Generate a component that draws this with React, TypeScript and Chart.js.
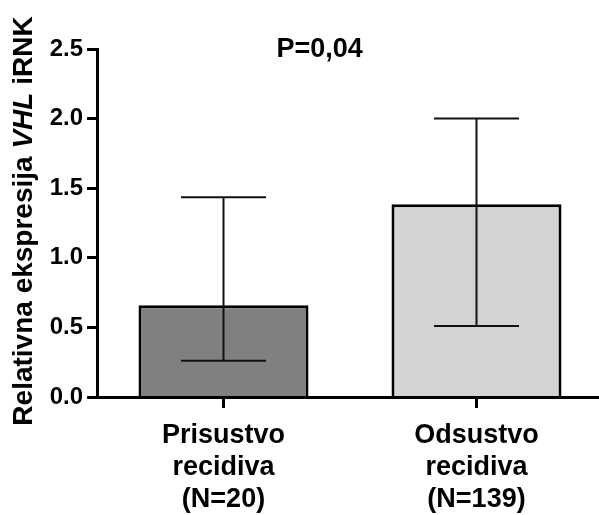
import React, { useEffect, useRef } from "react";
import { Chart, registerables } from "chart.js";

Chart.register(...registerables);

const categories: string[][] = [
  ["Prisustvo", "recidiva", "(N=20)"],
  ["Odsustvo", "recidiva", "(N=139)"],
];
const means: number[] = [0.66, 1.385];
const errLow: number[] = [0.26, 0.51];
const errHigh: number[] = [1.435, 2.0];
const barColors: string[] = ["#808080", "#d3d3d3"];
const yTicks: number[] = [0, 0.5, 1.0, 1.5, 2.0, 2.5];
const yTitleParts: { text: string; italic: boolean }[] = [
  { text: "Relativna ekspresija ", italic: false },
  { text: "VHL", italic: true },
  { text: " iRNK", italic: false },
];
const annotationText = "P=0,04";
const annotationX = 0.38; // category-index position
const annotationY = 2.5;

const FAMILY = '"Liberation Sans", Arial, sans-serif';

const errorBarsPlugin = {
  id: "errorBars",
  afterDatasetsDraw(chart: any) {
    const { ctx } = chart;
    const meta = chart.getDatasetMeta(0);
    const y = chart.scales.y;
    ctx.save();
    ctx.strokeStyle = "#111";
    ctx.lineWidth = 2;
    meta.data.forEach((bar: any, i: number) => {
      const x = bar.x;
      const half = bar.width / 4;
      const yl = y.getPixelForValue(errLow[i]);
      const yh = y.getPixelForValue(errHigh[i]);
      ctx.beginPath();
      ctx.moveTo(x, yl);
      ctx.lineTo(x, yh);
      ctx.moveTo(x - half, yl);
      ctx.lineTo(x + half, yl);
      ctx.moveTo(x - half, yh);
      ctx.lineTo(x + half, yh);
      ctx.stroke();
    });
    ctx.restore();
  },
};

const textPlugin = {
  id: "extraText",
  afterDraw(chart: any) {
    const { ctx, chartArea } = chart;
    const xs = chart.scales.x;
    const ys = chart.scales.y;
    ctx.save();
    // y-axis title with italic gene name
    const fontFor = (italic: boolean) =>
      `${italic ? "italic " : ""}bold 28px ${FAMILY}`;
    let total = 0;
    const widths = yTitleParts.map((p) => {
      ctx.font = fontFor(p.italic);
      const w = ctx.measureText(p.text).width;
      total += w;
      return w;
    });
    const cy = (chartArea.top + chartArea.bottom) / 2 - 2;
    ctx.translate(24, cy);
    ctx.rotate(-Math.PI / 2);
    ctx.fillStyle = "#000";
    ctx.textBaseline = "middle";
    ctx.textAlign = "left";
    let sx = -total / 2;
    yTitleParts.forEach((p, i) => {
      ctx.font = fontFor(p.italic);
      ctx.fillText(p.text, sx, 0);
      sx += widths[i];
    });
    ctx.restore();

    // P value annotation
    ctx.save();
    ctx.fillStyle = "#000";
    ctx.font = `bold 27px ${FAMILY}`;
    ctx.textAlign = "center";
    ctx.textBaseline = "middle";
    ctx.fillText(
      annotationText,
      xs.getPixelForValue(annotationX),
      ys.getPixelForValue(annotationY) + 1
    );
    ctx.restore();
  },
};

export default function App() {
  const ref = useRef<HTMLCanvasElement | null>(null);

  useEffect(() => {
    if (!ref.current) return;
    const chart = new Chart(ref.current, {
      type: "bar",
      data: {
        labels: categories as any,
        datasets: [
          {
            data: means,
            backgroundColor: barColors,
            borderColor: "#000",
            borderWidth: 3,
            borderSkipped: "start",
            barPercentage: 0.672,
            categoryPercentage: 1,
          },
        ],
      },
      options: {
        responsive: false,
        animation: false,
        layout: { padding: { top: 49, left: 0, right: 0, bottom: 0 } },
        plugins: {
          legend: { display: false },
          tooltip: { enabled: false },
          title: { display: false },
        },
        scales: {
          x: {
            type: "category",
            offset: true,
            grid: {
              display: true,
              drawOnChartArea: false,
              drawTicks: true,
              tickLength: 11,
              tickWidth: 3,
              tickColor: "#000",
              offset: false,
            },
            border: { display: true, color: "#000", width: 3, z: 1 },
            ticks: {
              color: "#000",
              font: { family: FAMILY, size: 27, weight: "bold", lineHeight: 1.18 },
              padding: 12,
              maxRotation: 0,
              autoSkip: false,
            },
            afterFit: (s: any) => {
              s.height = 118;
            },
          },
          y: {
            min: 0,
            max: 2.5,
            afterBuildTicks: (s: any) => {
              s.ticks = yTicks.map((v) => ({ value: v }));
            },
            grid: {
              drawOnChartArea: false,
              drawTicks: true,
              tickLength: 10,
              tickWidth: 3,
              tickColor: "#000",
            },
            border: { display: true, color: "#000", width: 3, z: 1 },
            ticks: {
              color: "#000",
              font: { family: FAMILY, size: 24, weight: "bold" },
              padding: 4,
              callback: (v: any) => Number(v).toFixed(1),
            },
            afterFit: (s: any) => {
              s.width = 97;
            },
          },
        },
      } as any,
      plugins: [errorBarsPlugin, textPlugin],
    });
    return () => chart.destroy();
  }, []);

  return (
    <div
      style={{
        position: "fixed",
        left: 0,
        top: 0,
        width: 599,
        height: 515,
        overflow: "hidden",
        background: "#fff",
      }}
    >
      <canvas ref={ref} width={603} height={515} style={{ display: "block" }} />
    </div>
  );
}
